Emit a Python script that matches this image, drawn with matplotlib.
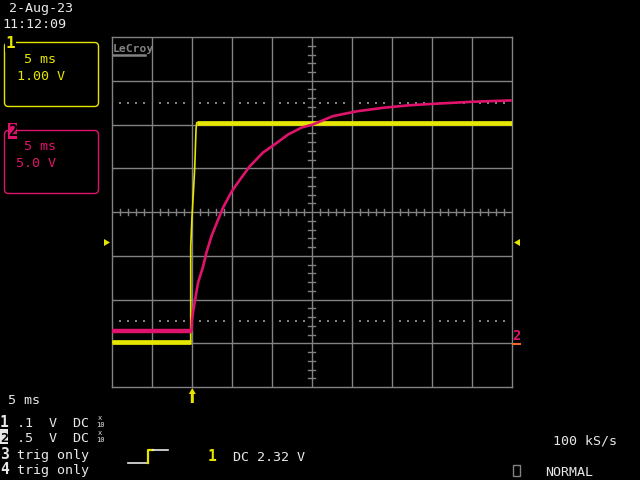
import matplotlib
matplotlib.use('Agg')
import matplotlib.pyplot as plt
from matplotlib.patches import FancyBboxPatch, Rectangle, Polygon
import numpy as np

# channel 1 (yellow): time in ms from trigger, volts (1 V/div, 0 V at -3 div)
ch1_t = [-10.0, -0.16, -0.16, 0.0, 0.18, 0.34, 0.50, 0.59, 40.0]
ch1_v = [0.03, 0.03, 2.21, 2.89, 3.46, 4.01, 4.88, 5.04, 5.04]

# channel 2 (pink): time in ms from trigger, volts (5 V/div, 0 V at -2.71 div)
ch2_t = [-10.0, -0.05, 0.0, 0.12, 0.75, 1.38, 1.8, 2.42, 3.25, 3.88, 4.93, 5.96,
         7.2, 8.88, 10.3, 12.0, 13.7, 15.1, 17.6, 20.55, 23.8, 27.2, 30.96, 35.1, 39.8]
ch2_v = [0.0, 0.0, 1.3, 2.05, 5.45, 7.3, 8.9, 10.75, 12.65, 14.05, 15.85, 17.2,
         18.75, 20.35, 21.25, 22.4, 23.2, 23.55, 24.5, 25.05, 25.45, 25.75, 25.95, 26.15, 26.3]

ch1_vdiv, ch1_off = 1.0, -3.0
ch2_vdiv, ch2_off = 5.0, -2.71

YEL = '#e6e600'
PINK = '#e0136c'
GRID = '#828282'
WHITE = '#e8e8e8'
MONO = 'DejaVu Sans Mono'
FS = 9.6

fig = plt.figure(figsize=(6.4, 4.8), dpi=100, facecolor='black')

# main graticule: 10 x 8 divisions, 5 ms/div
ax = fig.add_axes([112 / 640, 1 - 387 / 480, 400 / 640, 350 / 480])
ax.set_facecolor('black')
ax.set_xlim(-10, 40)
ax.set_ylim(-4, 4)
ax.set_xticks([])
ax.set_yticks([])
for s in ax.spines.values():
    s.set_color(GRID)
    s.set_linewidth(1.0)
for x in np.arange(-5, 40, 5):
    ax.axvline(x, color=GRID, lw=1.0, zorder=1)
for y in np.arange(-3, 4, 1):
    ax.axhline(y, color=GRID, lw=1.0, zorder=1)

# minor ticks on the centre cross (0.2 div)
for k in range(-20, 21):
    if k % 5:
        ax.plot([14.55, 15.4], [k * 0.2, k * 0.2], color=GRID, lw=1.0, zorder=1)
for k in range(-10, 41):
    if k % 5:
        ax.plot([k, k], [-0.07, 0.07], color=GRID, lw=1.0, zorder=1)

# dotted level lines at +/-2.5 div
dots_x = [x for x in np.arange(-10, 40.01, 1.0) if abs(x / 5 - round(x / 5)) > 1e-6]
for yy in (2.5, -2.5):
    ax.scatter(dots_x, [yy] * len(dots_x), s=0.6, marker='s', color=GRID, linewidths=0, zorder=1)

# traces
y1 = np.array(ch1_v) / ch1_vdiv + ch1_off
y2 = np.array(ch2_v) / ch2_vdiv + ch2_off
t1 = np.array(ch1_t)
t2 = np.array(ch2_t)
ax.plot(t1, y1, color=YEL, lw=1.2, zorder=3)
ax.plot(t1[:2], y1[:2], color=YEL, lw=3.4, solid_capstyle='butt', zorder=3)
ax.plot(t1[-2:], y1[-2:], color=YEL, lw=3.4, solid_capstyle='butt', zorder=3)
ax.plot(t2, y2, color=PINK, lw=1.9, zorder=4)
ax.plot(t2[:2], y2[:2], color=PINK, lw=3.2, solid_capstyle='butt', zorder=4)

# overlay in pixel coordinates for the screen furniture
ov = fig.add_axes([0, 0, 1, 1], facecolor='none')
ov.set_xlim(0, 640)
ov.set_ylim(480, 0)
ov.axis('off')


def txt(x, y, s, color=WHITE, size=FS, weight='normal', **kw):
    ov.text(x, y, s, color=color, fontsize=size, family=MONO, weight=weight,
            va='baseline', ha='left', **kw)


# date / time
txt(9, 12, '2-Aug-23')
txt(2, 28, '11:12:09')

# channel boxes
ov.add_patch(FancyBboxPatch((4.5, 42.5), 94, 64, boxstyle='round,pad=0,rounding_size=4',
                            fill=False, ec=YEL, lw=1.0))
ov.text(10.5, 48, '1', color=YEL, fontsize=11.5, family=MONO, weight='bold', ha='center',
        va='baseline', bbox=dict(fc='black', ec='none', pad=0.5))
txt(24, 63, '5 ms', color=YEL)
txt(17, 80, '1.00 V', color=YEL)

ov.add_patch(FancyBboxPatch((4.5, 130.5), 94, 63, boxstyle='round,pad=0,rounding_size=4',
                            fill=False, ec=PINK, lw=1.0))
ov.add_patch(Rectangle((7.5, 122.5), 9.5, 16, fc=PINK, ec='none', zorder=2))
ov.text(12.2, 136.5, '2', color='black', fontsize=11, family=MONO, weight='bold', ha='center',
        va='baseline', zorder=3)
txt(24, 150, '5 ms', color=PINK)
txt(16, 167, '5.0 V', color=PINK)

# LeCroy logo
ov.text(113, 52, 'LeCroy', color=GRID, fontsize=8.2, family=MONO, weight='bold', va='baseline')
ov.plot([113, 145], [54.5, 54.5], color=GRID, lw=1.8)

# trigger level markers
ov.add_patch(Polygon([[104, 239], [104, 246], [110, 242.5]], closed=True, fc=YEL, ec='none'))
ov.add_patch(Polygon([[520, 239], [520, 246], [514, 242.5]], closed=True, fc=YEL, ec='none'))
ov.text(516.5, 340, '2', color=PINK, fontsize=10, family=MONO, weight='bold', ha='center',
        va='baseline')
ov.plot([513, 520], [344, 344], color='#f06a2a', lw=1.5)

# trigger position arrow
ov.add_patch(Polygon([[192.3, 388], [188.8, 394], [190.8, 394], [190.8, 403],
                      [193.8, 403], [193.8, 394], [195.8, 394]], closed=True, fc=YEL, ec='none'))

# bottom status
txt(8, 404, '5 ms')
txt(0, 427, '1', weight='bold', size=10.5)
txt(17, 427, '.1  V  DC')
ov.add_patch(Rectangle((0, 428.5), 8, 15.5, fc=WHITE, ec='none'))
ov.text(4, 442, '2', color='black', fontsize=FS, family=MONO, weight='bold', ha='center', va='baseline')
txt(17, 442, '.5  V  DC')
for yb in (420, 435):
    ov.text(100, yb, 'x', color=WHITE, fontsize=5, family=MONO, ha='center', va='baseline')
    ov.text(100, yb + 7, '10', color=WHITE, fontsize=5, family=MONO, ha='center', va='baseline')
txt(0, 459, '3', weight='bold', size=10.5)
txt(17, 459, 'trig only')
txt(0, 474, '4', weight='bold', size=10.5)
txt(17, 474, 'trig only')

# trigger slope symbol
ov.plot([128, 147.5], [463, 463], color=WHITE, lw=1.2)
ov.plot([148, 148, 153], [463, 449.5, 449.5], color=YEL, lw=1.6)
ov.plot([153, 168], [449.5, 449.5], color=WHITE, lw=1.2)
txt(207.5, 461, '1', color=YEL, weight='bold', size=10.5)
txt(233, 461, 'DC 2.32 V')

txt(553, 444, '100 kS/s')
ov.add_patch(Rectangle((512.5, 464.5), 7, 11, fill=False, ec=GRID, lw=1.0))
txt(545, 476, 'NORMAL')

fig.savefig('out.png', dpi=100, facecolor='black')
